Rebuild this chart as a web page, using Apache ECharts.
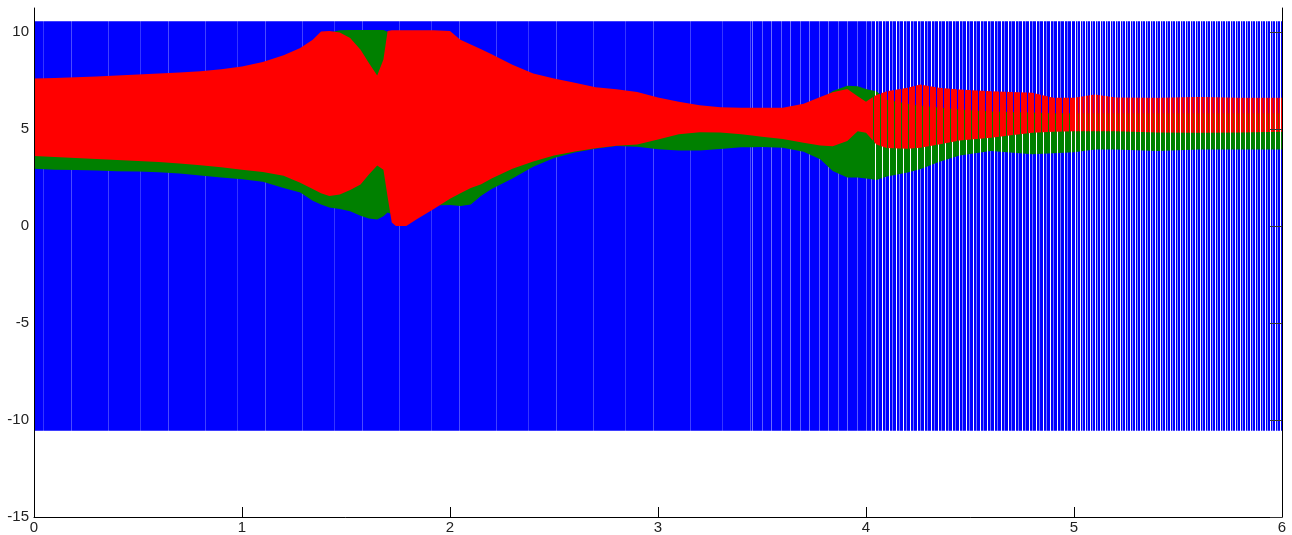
<!DOCTYPE html>
<html>
<head>
<meta charset="utf-8">
<script src="https://cdn.jsdelivr.net/npm/echarts@6/dist/echarts.min.js"></script>
<style>
html, body { margin: 0; padding: 0; background: #fff; }
#main { width: 1292px; height: 535px; }
</style>
</head>
<body>
<div id="main"></div>
<script>
var t = [0, 0.1, 0.2, 0.3, 0.4, 0.5, 0.6, 0.7, 0.8, 0.9,
	1.0, 1.1, 1.2, 1.28, 1.34, 1.38, 1.42, 1.47, 1.52, 1.57,
	1.61, 1.65, 1.68, 1.70, 1.72, 1.74, 1.79, 1.84, 1.92, 2.0,
	2.05, 2.1, 2.15, 2.2, 2.3, 2.4, 2.5, 2.6, 2.7, 2.8,
	2.9, 3.0, 3.1, 3.2, 3.3, 3.4, 3.5, 3.6, 3.7, 3.78,
	3.84, 3.91, 3.96, 4.0, 4.05, 4.1, 4.2, 4.26, 4.35, 4.45,
	4.6, 4.8, 4.9, 5.0, 5.1, 5.2, 5.4, 5.6, 5.8, 6.0];

// red signal: upper / lower envelope
var redHi = [7.6, 7.62, 7.66, 7.7, 7.75, 7.8, 7.85, 7.9, 7.97, 8.08,
	8.22, 8.45, 8.8, 9.17, 9.6, 10.02, 10.05, 9.97, 9.69, 9.08,
	8.4, 7.75, 8.57, 10.05, 10.08, 10.08, 10.08, 10.08, 10.08, 10.05,
	9.6, 9.35, 9.1, 8.85, 8.3, 7.85, 7.6, 7.38, 7.15, 7.04,
	6.9, 6.62, 6.4, 6.22, 6.12, 6.09, 6.09, 6.09, 6.3, 6.65,
	6.89, 7.06, 6.68, 6.4, 6.75, 6.94, 7.12, 7.29, 7.12, 7.03,
	6.94, 6.86, 6.6, 6.6, 6.77, 6.62, 6.6, 6.65, 6.6, 6.6];
var redLo = [3.6, 3.55, 3.5, 3.45, 3.4, 3.35, 3.3, 3.22, 3.13, 3.02,
	2.9, 2.78, 2.58, 2.23, 1.9, 1.68, 1.54, 1.62, 1.85, 2.14,
	2.65, 3.12, 2.9, 1.5, 0.17, 0.0, 0.0, 0.34, 0.86, 1.4,
	1.68, 1.95, 2.15, 2.45, 2.95, 3.32, 3.63, 3.83, 4.0, 4.13,
	4.2, 4.45, 4.72, 4.83, 4.82, 4.72, 4.6, 4.48, 4.28, 4.15,
	4.11, 4.37, 4.88, 4.8, 4.2, 4.02, 3.98, 4.03, 4.2, 4.4,
	4.54, 4.8, 4.85, 4.88, 4.88, 4.88, 4.82, 4.8, 4.82, 4.85];

// green signal: upper / lower envelope
var greenHi = [7.45, 7.47, 7.5, 7.55, 7.6, 7.65, 7.7, 7.75, 7.8, 7.9,
	8.05, 8.3, 8.6, 9.0, 9.4, 9.8, 9.95, 10.08, 10.1, 10.1,
	10.1, 10.1, 10.1, 10.0, 9.9, 9.9, 9.9, 9.9, 9.9, 9.85,
	9.4, 9.2, 8.95, 8.7, 8.15, 7.7, 7.45, 7.2, 7.0, 6.9,
	6.75, 6.5, 6.25, 6.05, 5.95, 5.95, 5.95, 5.95, 6.15, 6.5,
	6.95, 7.22, 7.2, 7.05, 6.94, 6.5, 6.3, 6.2, 6.1, 6.0,
	5.9, 5.85, 5.8, 5.8, 5.8, 5.8, 5.8, 5.8, 5.8, 5.8];
var greenLo = [2.95, 2.9, 2.88, 2.85, 2.82, 2.8, 2.77, 2.7, 2.6, 2.5,
	2.4, 2.27, 1.95, 1.72, 1.3, 1.1, 0.95, 0.87, 0.75, 0.52,
	0.38, 0.33, 0.5, 0.69, 0.6, 0.5, 0.6, 0.8, 1.05, 1.08,
	1.03, 1.1, 1.55, 1.9, 2.45, 3.05, 3.5, 3.78, 3.98, 4.12,
	4.08, 3.95, 3.89, 3.89, 3.97, 4.05, 4.07, 4.03, 3.82, 3.43,
	2.83, 2.49, 2.49, 2.45, 2.37, 2.55, 2.75, 2.92, 3.3, 3.63,
	3.86, 3.69, 3.75, 3.8, 3.94, 3.94, 3.86, 3.94, 3.94, 3.94];

// blue switching signal: rails
var blueT = [0, 6];
var blueHi = [10.55, 10.55];
var blueLo = [-10.55, -10.55];

// axis ticks
var xTicks = [0, 1, 2, 3, 4, 5, 6];
var yTicks = [-15, -10, -5, 0, 5, 10];
var yMin = -15, yMax = 11.23;

// stripe textures, one per time zone (switching gets sparser to the right)
var zoneEdges = [0, 3.45, 4.02, 5.0, 6];

function stripes(width, base, marks) {
	var c = document.createElement('canvas');
	c.width = width;
	c.height = 4;
	var ctx = c.getContext('2d');
	ctx.fillStyle = base;
	ctx.fillRect(0, 0, width, 4);
	for (var k in marks) {
		ctx.clearRect(+k, 0, 1, 4);
		if (marks[k] !== 'none') {
			ctx.fillStyle = marks[k];
			ctx.fillRect(+k, 0, 1, 4);
		}
	}
	return { image: c, repeat: 'repeat' };
}

var blueFills = [
	stripes(97, '#0000ff', { 11: '#4040ff', 43: '#3535ff', 71: '#4a4aff' }),
	stripes(19, '#0000ff', { 2: '#5a5aff', 11: '#6c6cff' }),
	stripes(7, '#0000ff', { 0: '#ffffff', 3: '#7878ff' }),
	stripes(5, '#0000ff', { 0: '#ffffff', 2: '#8c8cff' })
];
var greenFills = ['#008000', '#008000',
	stripes(7, '#008000', { 0: 'none' }),
	stripes(5, '#008000', { 0: 'none' })];
var redFills = ['#ff0000', '#ff0000',
	stripes(7, '#ff0000', { 5: 'none' }),
	stripes(5, '#ff0000', { 0: 'none', 3: 'rgba(255,0,0,0.55)' })];

function bandRender(xs, hi, lo, fills) {
	return function (params, api) {
		var pts = [], i;
		for (i = 0; i < xs.length; i++) pts.push(api.coord([xs[i], hi[i]]));
		for (i = xs.length - 1; i >= 0; i--) pts.push(api.coord([xs[i], lo[i]]));
		var top = api.coord([0, yMax])[1];
		var bottom = api.coord([0, yMin])[1];
		var children = [];
		for (var k = 0; k < fills.length; k++) {
			var x0 = Math.round(api.coord([zoneEdges[k], 0])[0]);
			var x1 = Math.round(api.coord([zoneEdges[k + 1], 0])[0]);
			if (k === 0) x0 -= 1;
			if (k === fills.length - 1) x1 += 1;
			children.push({
				type: 'polygon',
				shape: { points: pts },
				style: { fill: fills[k] },
				clipPath: { type: 'rect', shape: { x: x0, y: top, width: x1 - x0, height: bottom - top } }
			});
		}
		return { type: 'group', children: children };
	};
}

var labelFont = { color: '#222', fontSize: 15, fontFamily: 'Liberation Sans, Arial, sans-serif' };

var chart = echarts.init(document.getElementById('main'));

var option = {
	animation: false,
	backgroundColor: '#fff',
	grid: { left: 34, right: 10, top: 8, bottom: 16.5 },
	xAxis: {
		type: 'value', min: 0, max: 6, interval: 1, z: 10,
		axisLine: { onZero: false, lineStyle: { color: '#000', width: 1 } },
		axisTick: { inside: true, length: 10, customValues: xTicks, lineStyle: { color: '#000' } },
		axisLabel: Object.assign({ margin: 3, customValues: xTicks }, labelFont),
		splitLine: { show: false }
	},
	yAxis: [{
		type: 'value', min: yMin, max: yMax, interval: 5, z: 10,
		axisLine: { show: true, onZero: false, lineStyle: { color: '#000', width: 1 } },
		axisTick: { show: false },
		axisLabel: Object.assign({ margin: 5, customValues: yTicks }, labelFont),
		splitLine: { show: false }
	}, {
		type: 'value', min: yMin, max: yMax, interval: 5, position: 'right', z: 10,
		axisLine: { show: true, onZero: false, lineStyle: { color: '#000', width: 1 } },
		axisTick: { inside: true, length: 12, customValues: yTicks, lineStyle: { color: '#333' } },
		axisLabel: { show: false },
		splitLine: { show: false }
	}],
	series: [{
		type: 'custom', name: 'blue', data: [[0, 0]], silent: true,
		renderItem: bandRender(blueT, blueHi, blueLo, blueFills)
	}, {
		type: 'custom', name: 'green', data: [[0, 0]], silent: true,
		renderItem: bandRender(t, greenHi, greenLo, greenFills)
	}, {
		type: 'custom', name: 'red', data: [[0, 0]], silent: true,
		renderItem: bandRender(t, redHi, redLo, redFills)
	}]
};

chart.setOption(option);
</script>
</body>
</html>
